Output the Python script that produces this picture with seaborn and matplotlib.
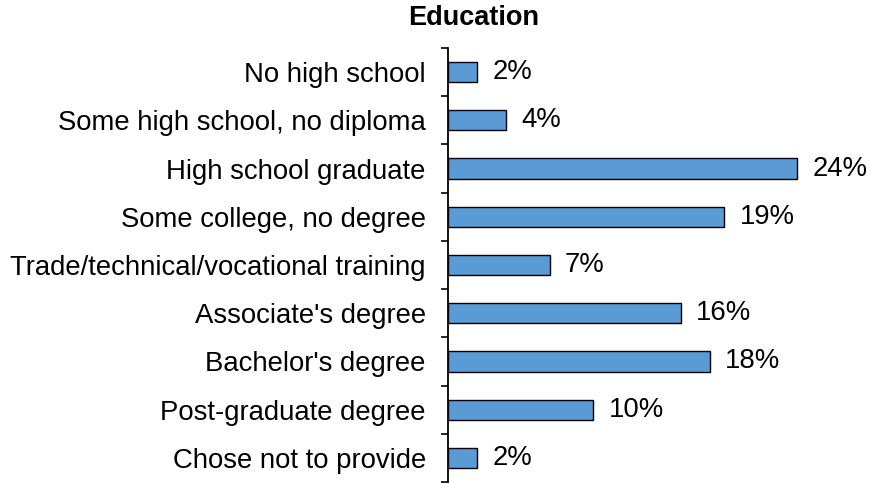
import matplotlib
matplotlib.use("Agg")
import matplotlib.pyplot as plt
import seaborn as sns
import pandas as pd
from matplotlib.ticker import FixedLocator

categories = [
    "No high school",
    "Some high school, no diploma",
    "High school graduate",
    "Some college, no degree",
    "Trade/technical/vocational training",
    "Associate's degree",
    "Bachelor's degree",
    "Post-graduate degree",
    "Chose not to provide",
]
shares = [2, 4, 24, 19, 7, 16, 18, 10, 2]
value_labels = ["2%", "4%", "24%", "19%", "7%", "16%", "18%", "10%", "2%"]

df = pd.DataFrame({"category": categories, "share": shares})

sns.set_theme(style="white")
plt.rcParams["font.family"] = ["Liberation Sans", "DejaVu Sans"]

fig = plt.figure(figsize=(8.77, 4.83), dpi=100)
ax = fig.add_axes([448 / 877, 1 / 483, 429 / 877, 434 / 483])

sns.barplot(data=df, y="category", x="share", orient="h", order=categories,
            color="#5B9BD5", edgecolor="black", linewidth=1.0, width=0.42,
            saturation=1, ax=ax)

ax.set_xlim(0, 29.5)
ax.set_ylim(len(categories) - 0.5, -0.5)
ax.set_xlabel("")
ax.set_ylabel("")
ax.set_xticks([])

for s in ["top", "right", "bottom"]:
    ax.spines[s].set_visible(False)
ax.spines["left"].set_color("black")
ax.spines["left"].set_linewidth(1.3)

ax.tick_params(axis="y", which="major", length=0, pad=16, labelsize=19.8, labelcolor="black")
ax.yaxis.set_minor_locator(FixedLocator([i - 0.5 for i in range(len(categories) + 1)]))
ax.tick_params(axis="y", which="minor", length=5, width=1.2, color="black", left=True)

ax.bar_label(ax.containers[0], labels=value_labels, padding=11, fontsize=19.8, color="black")

fig.text(474 / 877, 1 - 18 / 483, "Education", ha="center", va="center",
         fontsize=19.5, fontweight="bold", color="black")

fig.savefig("out.png", dpi=100)
